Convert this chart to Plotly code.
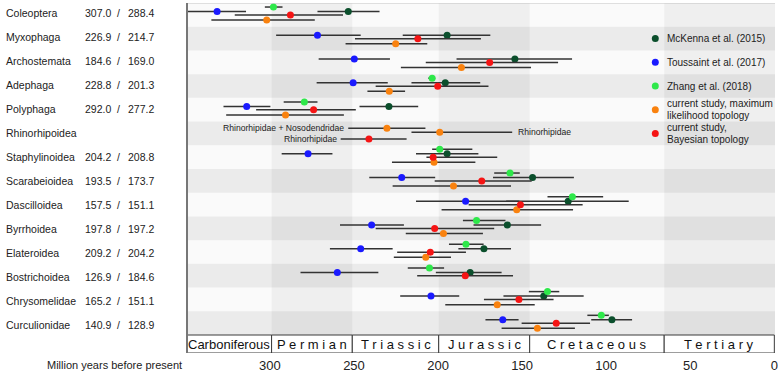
import plotly.graph_objects as go

# ---------------- data ----------------
groups = ["Coleoptera", "Myxophaga", "Archostemata", "Adephaga", "Polyphaga",
          "Rhinorhipoidea", "Staphylinoidea", "Scarabeioidea", "Dascilloidea",
          "Byrrhoidea", "Elateroidea", "Bostrichoidea", "Chrysomelidae", "Curculionidae"]
ml_label = ["307.0", "226.9", "184.6", "228.8", "292.0", "", "204.2", "193.5",
            "157.5", "197.8", "209.2", "126.9", "165.2", "140.9"]
bayes_label = ["288.4", "214.7", "169.0", "201.3", "277.2", "", "208.8", "173.7",
               "151.1", "197.2", "204.2", "184.6", "151.1", "128.9"]

# McKenna et al. (2015)
mckenna_age   = [253.4, 194.6, 154.3, 195.7, 229.2, None, 194.6, 143.8, 122.6, 158.8, 172.7, 180.9, 137.1, 96.6]
mckenna_young = [234.8, 168.9, 120.3, 174.9, 211.8, None, 176.0, 119.2, 86.6, 138.7, 156.6, 162.2, 113.4, 84.6]
mckenna_old   = [271.7, 221.0, 189.0, 215.8, 246.7, None, 213.1, 167.3, 159.5, 178.9, 187.9, 201.3, 161.1, 108.9]
# Toussaint et al. (2017)
toussaint_age   = [331.4, 271.7, 249.8, 250.5, 313.8, None, 277.3, 221.6, 183.6, 239.5, 246.0, 259.9, 204.2, 161.5]
toussaint_young = [314.2, 246.0, 228.6, 229.9, 299.7, None, 262.8, 201.7, 151.6, 220.3, 227.0, 235.5, 187.4, 152.1]
toussaint_old   = [355.0, 296.3, 271.0, 272.2, 327.6, None, 293.0, 240.9, 213.1, 258.3, 264.3, 281.8, 222.5, 171.8]
# Zhang et al. (2018)
zhang_age   = [297.9, None, None, 203.5, 279.5, None, 199.0, 157.2, 120.1, 177.1, 183.4, 205.1, 134.9, 102.9]
zhang_young = [292.5, None, None, 201.7, 271.7, None, 179.6, 151.4, 101.8, 159.9, 172.9, 196.4, 127.9, 98.4]
zhang_old   = [303.0, None, None, 205.8, 291.8, None, 203.5, 166.6, 134.9, 185.2, 193.5, 218.0, 146.0, 111.2]
# current study, maximum likelihood topology
ml_age   = [301.9, 225.2, 186.1, 229.0, 290.7, None, 202.4, 190.8, 153.2, 196.8, 207.3, None, 164.8, 140.9]
ml_young = [273.3, 206.4, 144.7, 219.6, 256.0, None, 177.8, 156.6, 119.7, 173.3, 192.3, None, 142.5, 118.6]
ml_old   = [334.8, 255.0, 222.1, 242.0, 326.0, None, 227.4, 227.0, 197.9, 219.2, 226.3, None, 195.7, 162.2]
# current study, Bayesian topology
bayes_age   = [287.8, 212.0, 169.3, 200.2, 274.0, None, 202.9, 174.0, 151.0, 202.0, 204.6, 183.8, 151.9, 129.7]
bayes_young = [256.5, 174.5, 128.6, 170.0, 248.9, None, 164.8, 144.3, 114.0, 166.6, 183.4, 155.4, 131.3, 109.6]
bayes_old   = [320.9, 249.4, 207.3, 237.1, 308.2, None, 206.9, 202.0, 181.8, 237.1, 224.3, 212.4, 172.7, 150.3]

# Rhinorhipoidea special estimates
rhino_text  = ["Rhinorhipidae + Nosodendridae", "Rhinorhipidae", "Rhinorhipidae"]
rhino_study = ["ml", "ml", "bayes"]
rhino_age   = [230.4, 199.0, 241.1]
rhino_young = [207.5, 155.9, 218.7]
rhino_old   = [253.4, 215.8, 257.9]

# geological periods
period_names = ["Carboniferous", "P e r m i a n", "T r i a s s i c", "J u r a s s i c",
                "C r e t a c e o u s", "T e r t i a r y"]
period_old   = [349.3, 299.0, 251.0, 199.6, 145.5, 65.5]
period_young = [299.0, 251.0, 199.6, 145.5, 65.5, 0.0]

x_ticks = [300, 250, 200, 150, 100, 50, 0]

# ---------------- style ----------------
REG = "Liberation Sans, Arial, sans-serif"
XMAX, XMIN = 349.3, -0.4
YTOP, YBOT = -0.5, 14.259
ROWS_END = 13.5

colors = {"mckenna": "#0b4f2c", "toussaint": "#1a1aff", "zhang": "#2ee84a",
          "ml": "#f9820f", "bayes": "#f51414"}
offsets = {"mckenna": -0.14, "toussaint": -0.14, "zhang": -0.33, "ml": 0.22, "bayes": 0.006}
rhino_offsets = [-0.22, -0.05, 0.24]
rhino_side = ["left", "right", "left"]

fig = go.Figure()

def add_series(key, name, ages, young, old):
    xs, ys, ep, em = [], [], [], []
    for i, (a, yg, od) in enumerate(zip(ages, young, old)):
        if a is None:
            continue
        xs.append(a)
        ys.append(i + offsets[key])
        ep.append(od - a)
        em.append(a - yg)
    fig.add_trace(go.Scatter(
        x=xs, y=ys, mode="markers", name=name, showlegend=False,
        marker=dict(color=colors[key], size=7, line=dict(width=0)),
        error_x=dict(type="data", symmetric=False, array=ep, arrayminus=em,
                     color="#333333", thickness=1.5, width=0),
    ))

add_series("mckenna", "McKenna et al. (2015)", mckenna_age, mckenna_young, mckenna_old)
add_series("toussaint", "Toussaint et al. (2017)", toussaint_age, toussaint_young, toussaint_old)
add_series("zhang", "Zhang et al. (2018)", zhang_age, zhang_young, zhang_old)
add_series("ml", "current study, maximum likelihood topology", ml_age, ml_young, ml_old)
add_series("bayes", "current study, Bayesian topology", bayes_age, bayes_young, bayes_old)

ridx = groups.index("Rhinorhipoidea")
annotations = []
RH = dict(family=REG, size=8.6, color="#222")
for k in range(len(rhino_age)):
    a, yg, od = rhino_age[k], rhino_young[k], rhino_old[k]
    yv = ridx + rhino_offsets[k]
    fig.add_trace(go.Scatter(
        x=[a], y=[yv], mode="markers", showlegend=False,
        marker=dict(color=colors[rhino_study[k]], size=7, line=dict(width=0)),
        error_x=dict(type="data", symmetric=False, array=[od - a], arrayminus=[a - yg],
                     color="#333333", thickness=1.5, width=0),
    ))
    if rhino_side[k] == "left":
        annotations.append(dict(x=od, y=yv, xref="x", yref="y", text=rhino_text[k],
                                showarrow=False, xanchor="right", xshift=-2, font=RH))
    else:
        annotations.append(dict(x=yg, y=yv, xref="x", yref="y", text=rhino_text[k],
                                showarrow=False, xanchor="left", xshift=4, font=RH))

shapes = []
# base background for rows region
shapes.append(dict(type="rect", xref="x", yref="y", x0=XMAX, x1=XMIN, y0=YTOP, y1=ROWS_END,
                   fillcolor="#fafafa", line=dict(width=0), layer="below"))
# alternating row bands
for i in range(len(groups)):
    if i % 2 == 1:
        shapes.append(dict(type="rect", xref="x", yref="y", x0=XMAX, x1=XMIN,
                           y0=i - 0.5, y1=i + 0.5, fillcolor="rgba(0,0,0,0.06)",
                           line=dict(width=0), layer="below"))
# darker period columns (Permian, Jurassic, Tertiary)
for j in (1, 3, 5):
    x1 = XMIN if period_young[j] == 0 else period_young[j]
    shapes.append(dict(type="rect", xref="x", yref="y", x0=period_old[j], x1=x1,
                       y0=YTOP, y1=ROWS_END, fillcolor="rgba(0,0,0,0.045)",
                       line=dict(width=0), layer="below"))
# period bar boxes
for j in range(len(period_names)):
    shapes.append(dict(type="rect", xref="x", yref="y", x0=period_old[j], x1=period_young[j],
                       y0=ROWS_END, y1=YBOT, fillcolor="white",
                       line=dict(color="#3a3a3a", width=1), layer="above"))
    annotations.append(dict(x=(period_old[j] + period_young[j]) / 2, y=(ROWS_END + YBOT) / 2,
                            xref="x", yref="y", text=period_names[j], showarrow=False,
                            font=dict(family=REG, size=13, color="#111")))
# top border and left axis line
shapes.append(dict(type="line", xref="x", yref="y", x0=XMAX, x1=XMIN, y0=YTOP, y1=YTOP,
                   line=dict(color="#c4c4c4", width=1)))
shapes.append(dict(type="line", xref="paper", yref="y", x0=0, x1=0, y0=YTOP, y1=YBOT,
                   line=dict(color="#777777", width=2)))

# row labels
LBL = dict(family=REG, size=10.5, color="#222")
for i, g in enumerate(groups):
    yl = -0.078 + 1.0127 * i
    annotations.append(dict(x=-0.3113, y=yl, xref="paper", yref="y", text=g, showarrow=False,
                            xanchor="left", font=LBL))
    if ml_label[i]:
        annotations.append(dict(x=-0.1777, y=yl, xref="paper", yref="y", text=ml_label[i],
                                showarrow=False, xanchor="left", font=LBL))
        annotations.append(dict(x=-0.1168, y=yl, xref="paper", yref="y", text="/",
                                showarrow=False, xanchor="center", font=LBL))
        annotations.append(dict(x=-0.1032, y=yl, xref="paper", yref="y", text=bayes_label[i],
                                showarrow=False, xanchor="left", font=LBL))

# manual legend
legend_keys = ["mckenna", "toussaint", "zhang", "ml", "bayes"]
legend_lines = [["McKenna et al. (2015)"], ["Toussaint et al. (2017)"], ["Zhang et al. (2018)"],
                ["current study, maximum", "likelihood topology"],
                ["current study,", "Bayesian topology"]]
lx = (657.7 - 187) / 591
rx = 3.5 / 591
ry = 3.5 / 23.714
LG = dict(family=REG, size=10, color="#222")
for n, key in enumerate(legend_keys):
    yc = n + 1
    shapes.append(dict(type="circle", xref="paper", yref="y", x0=lx - rx, x1=lx + rx,
                       y0=yc - ry, y1=yc + ry, fillcolor=colors[key], line=dict(width=0)))
    lines = legend_lines[n]
    ys_ = [yc] if len(lines) == 1 else [yc - 0.25, yc + 0.25]
    for t, yy in zip(lines, ys_):
        annotations.append(dict(x=(668 - 187) / 591, y=yy, xref="paper", yref="y", text=t,
                                showarrow=False, xanchor="left", yanchor="middle",
                                borderpad=0, font=LG))

annotations.append(dict(x=(114 - 187) / 591, y=(353 - 365) / 350, xref="paper", yref="paper",
                        text="Million years before present", showarrow=False,
                        xanchor="center", yanchor="middle",
                        font=dict(family=REG, size=11, color="#222")))

fig.update_layout(
    width=778, height=373,
    margin=dict(l=187, r=0, t=3, b=20),
    paper_bgcolor="white", plot_bgcolor="white",
    shapes=shapes, annotations=annotations,
    showlegend=False,
    xaxis=dict(range=[XMAX, XMIN], tickvals=x_ticks, ticktext=[str(v) for v in x_ticks],
               showgrid=False, zeroline=False, showline=False, ticks="",
               ticklabeloverflow="allow",
               tickfont=dict(family=REG, size=13, color="#222"), ticklabelstandoff=3),
    yaxis=dict(range=[YBOT, YTOP], showgrid=False, zeroline=False, showline=False,
               showticklabels=False, ticks=""),
)

fig.write_html("out.html", config={"displayModeBar": False},
               post_script="document.body.style.margin='0';document.body.style.padding='0';")
